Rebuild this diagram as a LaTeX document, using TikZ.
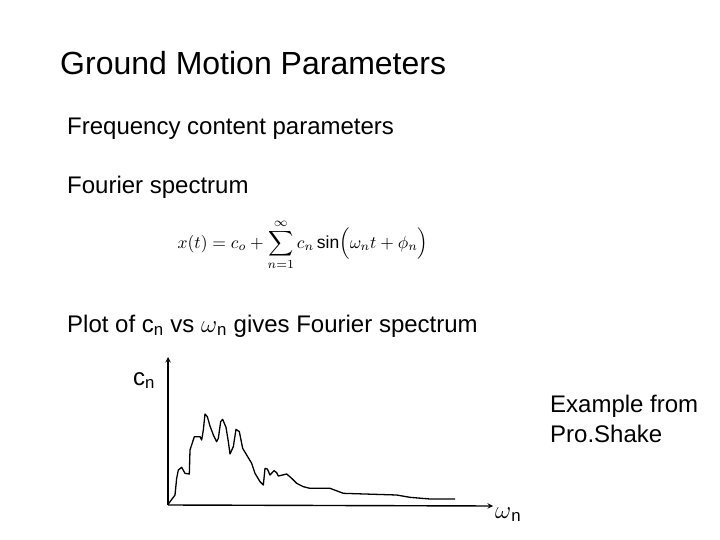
\documentclass[tikz,border=0pt]{standalone}
\usepackage{fontspec}
\setmainfont{Liberation Sans}
\usetikzlibrary{
		calc,
		positioning
	}
\tikzset{
		>=stealth,
		txt/.style={anchor=base west, inner sep=0pt, font=\fontsize{24}{28}\selectfont}
	}

\begin{document}
\begin{tikzpicture}[x=1pt,y=-1pt]
        \useasboundingbox (0,0) rectangle (720,540);

        % the texts
        \node[txt, font=\fontsize{32}{36}\selectfont] (title) at (60,75) {Ground Motion Parameters};
        \node[txt] (freq) at (67,135) {Frequency content parameters};
        \node[txt] (four) at (67,194) {Fourier spectrum};
        \node[scale=1.75, transform shape] (eqn) at (303,245) {$\displaystyle x(t)=c_o+\sum_{n=1}^{\infty}c_n\sin\!\Big(\omega_n t+\phi_n\Big)$};
        \node[txt] (plot) at (67,332) {Plot of c\textsubscript{n} vs $\omega$\textsubscript{n} gives Fourier spectrum};
        \node[txt] (cn) at (133,385) {c\textsubscript{n}};
        \node[txt] (ex1) at (550,412) {Example from};
        \node[txt] (ex2) at (550,442) {Pro.Shake};

        % the axes
        \coordinate (o) at (168,505);
        \coordinate (ytop) at (168,357);
        \coordinate (xend) at (493,506);
        \draw[->, line width=1.4pt] (o) -- (ytop);
        \draw[->, line width=1.4pt] (o) -- (xend);
        \node[txt] (wn) at (495,518) {$\omega$\textsubscript{n}};

        % the spectrum
        \begin{scope}[shift={(150,350)}, scale=1/3]
        \draw[line width=1.3pt, line join=round] plot coordinates {
          (55,462) (75,435) (80,385) (85,360) (95,352) (105,370) (118,372) (120,300)
          (133,260) (150,260) (155,270) (160,240) (165,192) (172,200) (180,228)
          (190,255) (200,275) (205,265) (212,215) (218,208) (228,232) (235,275)
          (240,312) (250,290) (258,238) (268,245) (278,295) (290,315) (305,340)
          (315,370) (330,395) (340,405) (345,355) (352,357) (360,375) (372,362)
          (380,368) (385,378) (398,375) (410,372) (425,385) (440,400) (460,410)
          (480,415) (540,415) (580,430) (740,435) (780,442) (840,447) (915,447)};
        \end{scope}
\end{tikzpicture}
\end{document}
